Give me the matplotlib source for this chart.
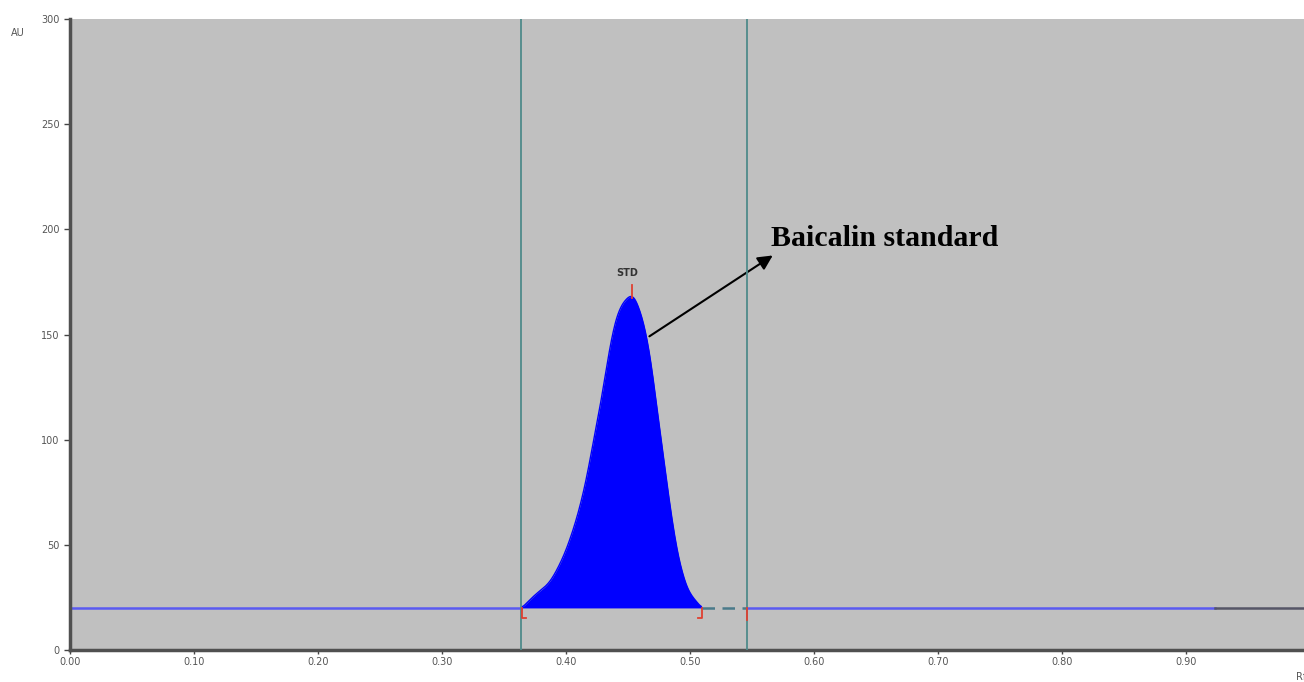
import matplotlib
matplotlib.use("Agg")
import matplotlib.pyplot as plt
import numpy as np

# peak profile (Rf, AU)
peak_rf = [0.3643, 0.3750, 0.3857, 0.3965, 0.4073, 0.4153, 0.4220, 0.4288,
           0.4341, 0.4395, 0.4449, 0.4530, 0.4611, 0.4677, 0.4731, 0.4785,
           0.4839, 0.4906, 0.4986, 0.5094]
peak_au = [20.0, 26.2, 31.7, 42.8, 60.2, 78.5, 99.0, 120.5,
           139.5, 155.4, 164.0, 168.5, 158.3, 139.5, 115.7, 91.9,
           68.2, 44.4, 28.5, 20.0]

baseline_au = 20.0
track_start = 0.3637
track_end = 0.546
peak_top_rf = 0.4530
blue_end = 0.923

x_ticks = [0.0, 0.1, 0.2, 0.3, 0.4, 0.5, 0.6, 0.7, 0.8, 0.9]
y_ticks = [0, 50, 100, 150, 200, 250, 300]


def pchip(x, y, xn):
    # monotone cubic (Fritsch-Carlson) so the outline stays smooth
    x = np.asarray(x, float)
    y = np.asarray(y, float)
    h = np.diff(x)
    d = np.diff(y) / h
    m = np.zeros_like(y)
    for i in range(1, len(y) - 1):
        if d[i - 1] * d[i] > 0:
            w1 = 2 * h[i] + h[i - 1]
            w2 = h[i] + 2 * h[i - 1]
            m[i] = (w1 + w2) / (w1 / d[i - 1] + w2 / d[i])
    m[0] = d[0]
    m[-1] = d[-1]
    idx = np.clip(np.searchsorted(x, xn) - 1, 0, len(h) - 1)
    t = (xn - x[idx]) / h[idx]
    h00 = 2 * t**3 - 3 * t**2 + 1
    h10 = t**3 - 2 * t**2 + t
    h01 = -2 * t**3 + 3 * t**2
    h11 = t**3 - t**2
    return h00 * y[idx] + h10 * h[idx] * m[idx] + h01 * y[idx + 1] + h11 * h[idx] * m[idx + 1]


fig = plt.figure(figsize=(13.04, 6.82), dpi=100)
ax = fig.add_axes([70 / 1304, 1 - 650 / 682, 1 - 70 / 1304, (650 - 19) / 682])
ax.set_facecolor("#c0c0c0")

xs = np.linspace(peak_rf[0], peak_rf[-1], 400)
ys = pchip(peak_rf, peak_au, xs)
# light moving average to iron out reading noise
k = np.ones(17) / 17
ys = np.convolve(np.pad(ys, 8, mode="edge"), k, mode="valid")
ys[0] = baseline_au
ys[-1] = baseline_au
ax.fill_between(xs, baseline_au, ys, color="#0000ff", lw=0, zorder=3)
ax.plot(xs, ys, color="#0000ff", lw=1, zorder=3)

# baseline
ax.plot([0, track_start], [baseline_au, baseline_au], color="#5a5af0", lw=1.8, zorder=2)
ax.plot([track_end, blue_end], [baseline_au, baseline_au], color="#5a5af0", lw=1.8, zorder=2)
ax.plot([blue_end, 0.995], [baseline_au, baseline_au], color="#555566", lw=1.8, zorder=2)
ax.plot([peak_rf[-1], track_end], [baseline_au, baseline_au], color="#4a7a8a", lw=1.8,
        dashes=(5, 3), zorder=2)

# track lines
for xv in (track_start, track_end):
    ax.axvline(xv, color="#4f8a8a", lw=1.3, zorder=4)

# red peak markers
red = "#e04030"
ax.plot([peak_rf[0], peak_rf[0], peak_rf[0] + 0.003], [baseline_au, 15, 15], color=red, lw=1.3, zorder=5)
ax.plot([peak_rf[-1], peak_rf[-1], peak_rf[-1] - 0.003], [baseline_au, 15, 15], color=red, lw=1.3, zorder=5)
ax.plot([track_end, track_end], [baseline_au, 14.5], color=red, lw=1.3, zorder=5)
ax.plot([peak_top_rf, peak_top_rf], [167.5, 173.5], color=red, lw=1.3, zorder=5)
ax.text(peak_top_rf - 0.004, 177, "STD", fontsize=7, color="#333333", ha="center", va="bottom",
        fontweight="bold")

ax.annotate("", xy=(0.5685, 188.3), xytext=(0.4653, 148.4),
            arrowprops=dict(arrowstyle="-|>", color="black", lw=1.5, mutation_scale=22))
ax.text(0.565, 195.5, "Baicalin standard", fontsize=21.5, fontweight="bold",
        family="Liberation Serif", va="center", ha="left")

ax.set_xlim(0, 0.995)
ax.set_ylim(0, 300)
ax.set_xticks(x_ticks)
ax.set_xticklabels([f"{v:.2f}" for v in x_ticks])
ax.set_yticks(y_ticks)
ax.tick_params(axis="both", labelsize=7, colors="#444444", labelcolor="#555555",
               length=4, width=1)
ax.tick_params(axis="x", length=3, pad=2)
for s in ("top", "right"):
    ax.spines[s].set_visible(False)
for s in ("left", "bottom"):
    ax.spines[s].set_color("#505050")
    ax.spines[s].set_linewidth(2.5)

fig.text(18 / 1304, 1 - 33 / 682, "AU", fontsize=7, color="#555555", ha="center", va="center")
fig.text(1296 / 1304, 1 - 677 / 682, "Rf", fontsize=7, color="#555555", ha="left", va="center")

fig.savefig("out.png", dpi=100)
